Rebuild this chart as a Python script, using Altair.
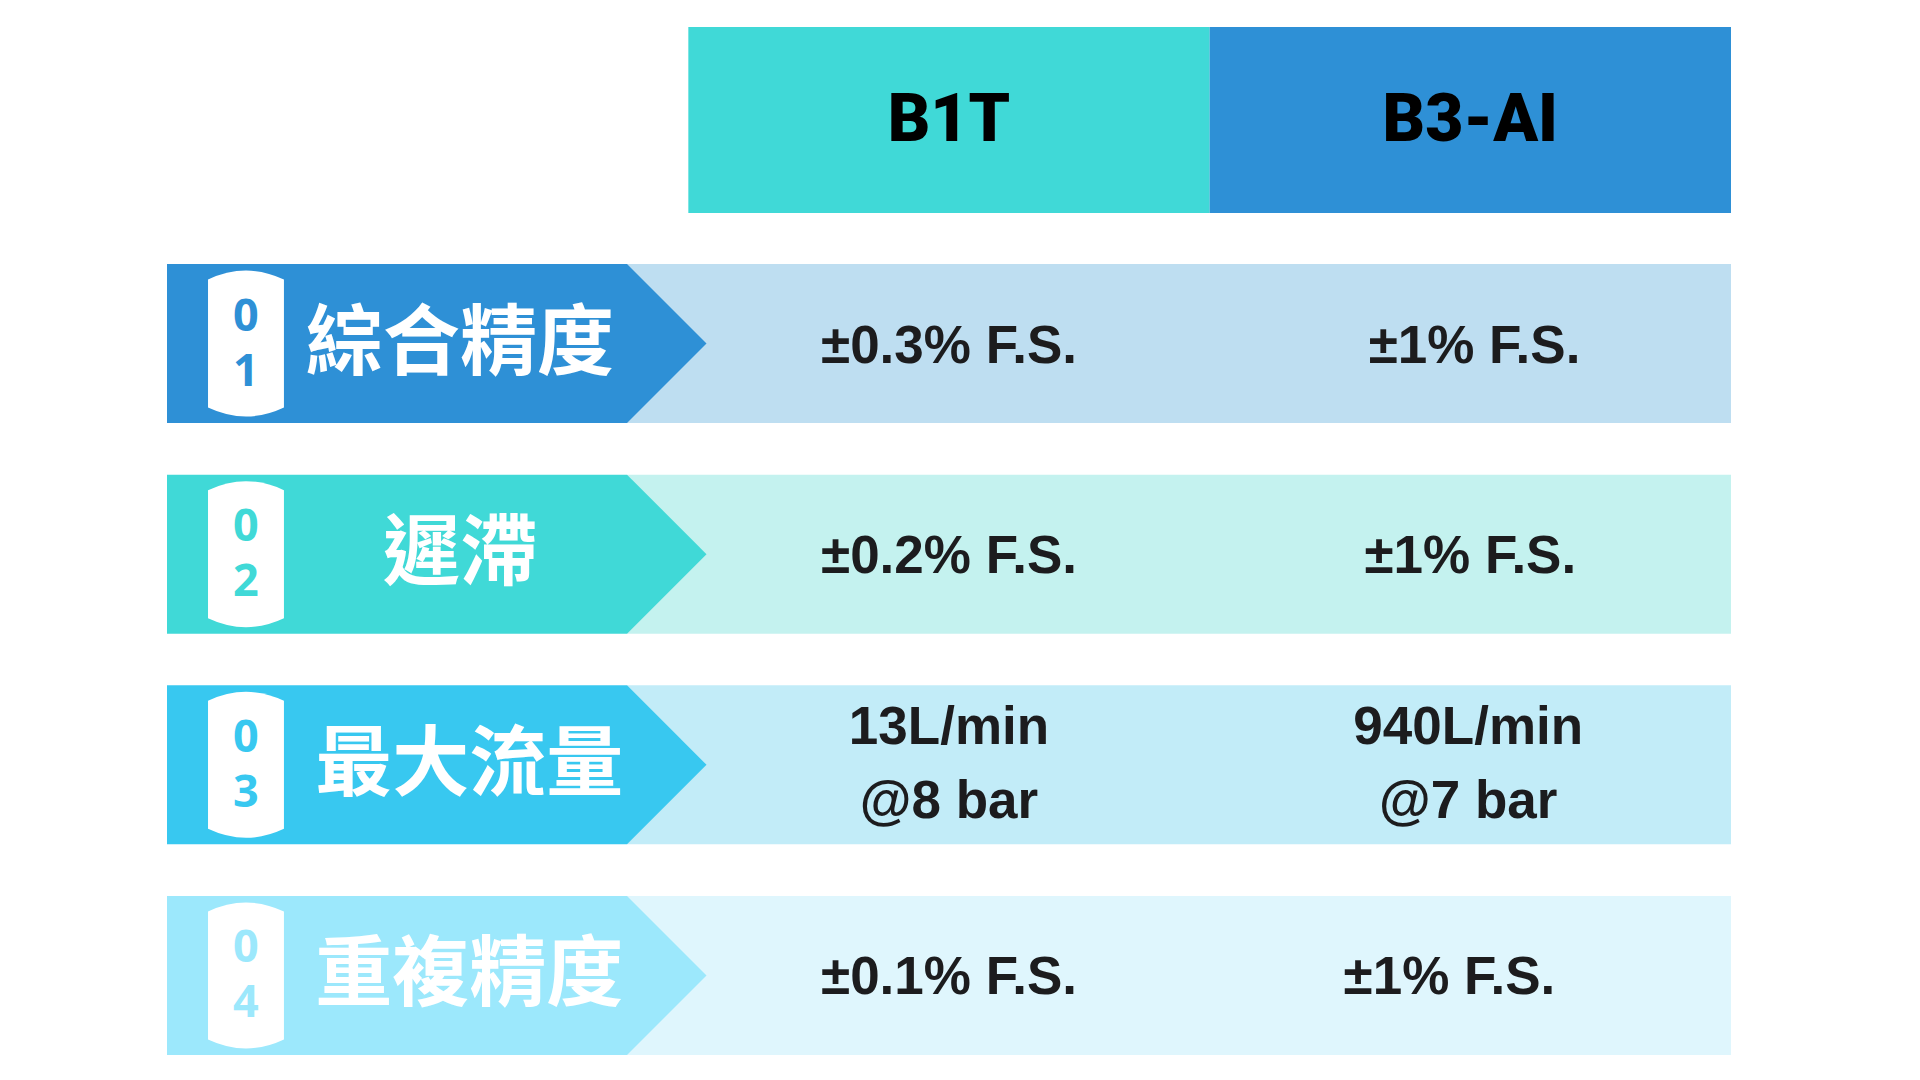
import altair as alt
import pandas as pd

# ---------------- data ----------------
models = ["B1T", "B3-AI"]
row_ids = ["01", "02", "03", "04"]
row_labels = ["綜合精度", "遲滯", "最大流量", "重複精度"]
b1t_values = ["±0.3% F.S.", "±0.2% F.S.", "13L/min\n@8 bar", "±0.1% F.S."]
b3ai_values = ["±1% F.S.", "±1% F.S.", "940L/min\n@7 bar", "±1% F.S."]

# ---------------- styles ----------------
header_colors = ["#40D9D7", "#2E90D6"]
dark_colors = ["#2E90D6", "#40D9D7", "#38C8F0", "#9CE8FC"]
light_colors = ["#BEDEF1", "#C4F2EF", "#C2ECF8", "#DFF6FD"]

# layout in "column units": label column 0-1, B1T 1-2, B3-AI 2-3
ARROW_START = 0.8824
BADGE_X = 0.1515
LABEL_X = [0.562, 0.562, 0.58, 0.58]          # label centre per row
B3_NUDGE = [0.008, 0.0, -0.004, -0.04]        # small horizontal nudges of B3-AI cells
XSCALE = alt.Scale(domain=[0, 3], nice=False, zero=False)
W = 1564

# ---------------- header ----------------
hdr = pd.DataFrame({
    "model": models,
    "x0": [i + 1 for i in range(len(models))],
    "x1": [i + 2 for i in range(len(models))],
    "xc": [i + 1.5 for i in range(len(models))],
})
color_m = alt.Color("model:N", scale=alt.Scale(domain=models, range=header_colors), legend=None)
header_rect = alt.Chart(hdr).mark_rect().encode(
    x=alt.X("x0:Q", scale=XSCALE, axis=None),
    x2="x1:Q",
    y=alt.value(0), y2=alt.value(186),
    color=color_m,
)
header_text = alt.Chart(hdr).mark_text(
    font="Roboto, Liberation Sans, sans-serif",
    fontWeight=900, fontSize=66, color="#000000", baseline="middle", align="center",
).encode(
    x=alt.X("xc:Q", scale=XSCALE, axis=None),
    y=alt.value(94),
    text="model:N",
)
header = alt.layer(header_rect, header_text).properties(width=W, height=186)

# ---------------- body ----------------
body_df = pd.DataFrame({
    "row": row_ids,
    "label": row_labels,
    "digits": [r[0] + "\n" + r[1] for r in row_ids],
    "zero": [0.0] * len(row_ids),
    "astart": [ARROW_START] * len(row_ids),
    "end": [3.0] * len(row_ids),
    "badge_x": [BADGE_X] * len(row_ids),
    "label_x": LABEL_X,
})
all_vals = b1t_values + b3ai_values
vals = pd.DataFrame({
    "row": row_ids * 2,
    "model": [models[0]] * 4 + [models[1]] * 4,
    "value": all_vals,
    "nlines": [v.count("\n") + 1 for v in all_vals],
    "xc": [1.5] * 4 + [2.5 + n for n in B3_NUDGE],
})

Y = alt.Y("row:N", scale=alt.Scale(domain=row_ids, paddingInner=0.245, paddingOuter=0), axis=None)
dark_c = alt.Color("row:N", scale=alt.Scale(domain=row_ids, range=dark_colors), legend=None)
light_c = alt.Color("row:N", scale=alt.Scale(domain=row_ids, range=light_colors), legend=None)

base = alt.Chart(body_df)
light_rect = base.mark_rect().encode(
    x=alt.X("astart:Q", scale=XSCALE, axis=None), x2="end:Q", y=Y, color=light_c)
dark_rect = base.mark_rect().encode(
    x=alt.X("zero:Q", scale=XSCALE, axis=None), x2="astart:Q", y=Y, color=dark_c)
arrow = base.mark_point(
    shape="M0,-1L1,0L0,1Z", size=159 * 159, filled=True, opacity=1, strokeWidth=0
).encode(x=alt.X("astart:Q", scale=XSCALE, axis=None), y=Y, color=dark_c)
badge = base.mark_point(
    shape="M-0.52,-0.877Q0,-1.123 0.52,-0.877L0.52,0.877Q0,1.123 -0.52,0.877Z",
    size=146 * 146, filled=True, opacity=1, strokeWidth=0, color="#FFFFFF",
).encode(x=alt.X("badge_x:Q", scale=XSCALE, axis=None), y=Y)
digits = base.mark_text(
    font="Open Sans, Noto Sans, sans-serif", fontWeight="bold", fontSize=45,
    lineBreak="\n", lineHeight=55, baseline="middle", align="center", dy=-27,
).encode(x=alt.X("badge_x:Q", scale=XSCALE, axis=None), y=Y, text="digits:N", color=dark_c)
labels = base.mark_text(
    font="Noto Sans CJK TC, Noto Sans CJK SC, sans-serif", fontWeight="bold", fontSize=77,
    color="#FFFFFF", baseline="middle", align="center", dy=2,
).encode(x=alt.X("label_x:Q", scale=XSCALE, axis=None), y=Y, text="label:N")

val_style = dict(
    font="Liberation Sans, Arial, Helvetica, sans-serif", fontWeight="bold", fontSize=53,
    color="#1C1C1E", lineBreak="\n", lineHeight=74, baseline="middle", align="center",
)
values_1 = alt.Chart(vals).transform_filter("datum.nlines == 1").mark_text(
    dy=3, **val_style
).encode(x=alt.X("xc:Q", scale=XSCALE, axis=None), y=Y, text="value:N")
values_2 = alt.Chart(vals).transform_filter("datum.nlines == 2").mark_text(
    dy=-37, **val_style
).encode(x=alt.X("xc:Q", scale=XSCALE, axis=None), y=Y, text="value:N")

body = alt.layer(
    light_rect, dark_rect, arrow, badge, digits, labels, values_1, values_2
).resolve_scale(color="independent").properties(width=W, height=791)

chart = alt.vconcat(header, body, spacing=51).resolve_scale(color="independent").properties(
    padding={"left": 159, "top": 19, "right": 0, "bottom": 0},
    background="#FFFFFF",
).configure_view(strokeWidth=0).configure_concat(spacing=51)

chart.save("out.html", embed_options={"renderer": "svg", "actions": False})
